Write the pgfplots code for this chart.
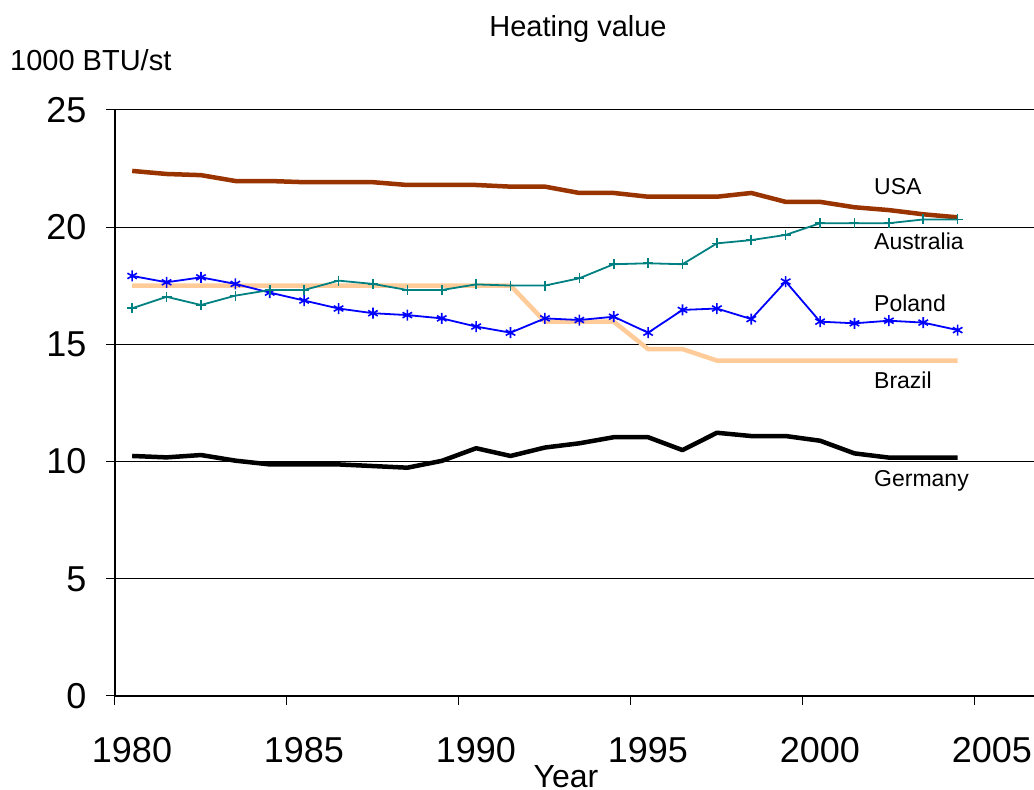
\documentclass[border=0pt]{standalone}
\usepackage{fontspec}
\setmainfont{Liberation Sans}
\usepackage{pgfplots}
\pgfplotsset{compat=1.18}
\definecolor{usa}{RGB}{153,51,0}
\definecolor{aus}{RGB}{0,128,128}
\definecolor{pol}{RGB}{0,0,255}
\definecolor{bra}{RGB}{255,204,153}
\begin{document}
\begin{tikzpicture}[x=1bp,y=1bp]
\useasboundingbox (-115,-94) rectangle (919,696);
\begin{axis}[at={(0,0)}, anchor=south west, scale only axis,
  width=919bp, height=586bp,
  xmin=1980, xmax=2006.72, ymin=0, ymax=25,
  axis x line=bottom, axis y line=left,
  axis line style={-, line width=1.2bp, black},
  xtick={1980,1985,...,2005}, ytick={0,5,...,25},
  ymajorgrids, grid style={black, line width=1bp},
  tick align=outside, major tick length=9bp,
  tick style={black, line width=1bp},
  /pgf/number format/assume math mode=true,
  /pgf/number format/1000 sep={},
  ticklabel style={font=\fontsize{36bp}{40bp}\selectfont},
  yticklabel style={xshift=-16bp},
  xticklabel style={yshift=-29bp, xshift=17bp},
  line join=round,
]
\addplot[bra, line width=4.5bp, mark=none] coordinates {
(1980.5,17.51)(1981.5,17.51)(1982.5,17.51)(1983.5,17.51)(1984.5,17.51)(1985.5,17.51)
(1986.5,17.51)(1987.5,17.51)(1988.5,17.51)(1989.5,17.51)(1990.5,17.51)(1991.5,17.51)
(1992.5,15.97)(1993.5,15.97)(1994.5,15.97)(1995.5,14.80)(1996.5,14.80)(1997.5,14.31)
(1998.5,14.31)(1999.5,14.31)(2000.5,14.31)(2001.5,14.31)(2002.5,14.31)(2003.5,14.31)(2004.5,14.31)};
\addplot[usa, line width=4.5bp, mark=none] coordinates {
(1980.5,22.40)(1981.5,22.27)(1982.5,22.22)(1983.5,21.97)(1984.5,21.97)(1985.5,21.92)
(1986.5,21.92)(1987.5,21.92)(1988.5,21.80)(1989.5,21.80)(1990.5,21.80)(1991.5,21.73)
(1992.5,21.73)(1993.5,21.46)(1994.5,21.46)(1995.5,21.30)(1996.5,21.30)(1997.5,21.30)
(1998.5,21.46)(1999.5,21.08)(2000.5,21.08)(2001.5,20.85)(2002.5,20.73)(2003.5,20.55)(2004.5,20.42)};
\addplot[black, line width=4.5bp, mark=none] coordinates {
(1980.5,10.24)(1981.5,10.18)(1982.5,10.28)(1983.5,10.04)(1984.5,9.88)(1985.5,9.88)
(1986.5,9.88)(1987.5,9.81)(1988.5,9.74)(1989.5,10.03)(1990.5,10.57)(1991.5,10.24)
(1992.5,10.60)(1993.5,10.78)(1994.5,11.04)(1995.5,11.04)(1996.5,10.49)(1997.5,11.23)
(1998.5,11.09)(1999.5,11.09)(2000.5,10.89)(2001.5,10.35)(2002.5,10.17)(2003.5,10.17)(2004.5,10.17)};
\addplot[pol, line width=1.8bp, mark=asterisk, mark size=5.5bp, mark options={line width=1.6bp}] coordinates {
(1980.5,17.92)(1981.5,17.65)(1982.5,17.86)(1983.5,17.58)(1984.5,17.21)(1985.5,16.87)
(1986.5,16.53)(1987.5,16.33)(1988.5,16.25)(1989.5,16.11)(1990.5,15.76)(1991.5,15.50)
(1992.5,16.11)(1993.5,16.04)(1994.5,16.18)(1995.5,15.50)(1996.5,16.47)(1997.5,16.53)
(1998.5,16.08)(1999.5,17.68)(2000.5,15.97)(2001.5,15.90)(2002.5,16.01)(2003.5,15.93)(2004.5,15.61)};
\addplot[aus, line width=1.8bp, mark=+, mark size=5bp, mark options={line width=1.6bp}] coordinates {
(1980.5,16.54)(1981.5,17.03)(1982.5,16.68)(1983.5,17.08)(1984.5,17.32)(1985.5,17.32)
(1986.5,17.72)(1987.5,17.58)(1988.5,17.32)(1989.5,17.32)(1990.5,17.56)(1991.5,17.51)
(1992.5,17.51)(1993.5,17.82)(1994.5,18.42)(1995.5,18.46)(1996.5,18.42)(1997.5,19.31)
(1998.5,19.45)(1999.5,19.67)(2000.5,20.17)(2001.5,20.17)(2002.5,20.17)(2003.5,20.33)(2004.5,20.33)};
\end{axis}
\begin{scope}[every node/.style={inner sep=0pt, font=\fontsize{23bp}{27bp}\selectfont, anchor=base west}]
\node at (759,501) {USA};
\node at (759,446) {Australia};
\node at (759,384) {Poland};
\node at (759,307) {Brazil};
\node at (759,209) {Germany};
\end{scope}
\node[inner sep=0pt, font=\fontsize{29bp}{34bp}\selectfont] at (463,667) {Heating value};
\node[inner sep=0pt, anchor=west, font=\fontsize{29bp}{34bp}\selectfont] at (-105,636) {1000 BTU/st};
\node[inner sep=0pt, anchor=base, font=\fontsize{32bp}{36bp}\selectfont] at (451,-92) {Year};
\end{tikzpicture}
\end{document}
